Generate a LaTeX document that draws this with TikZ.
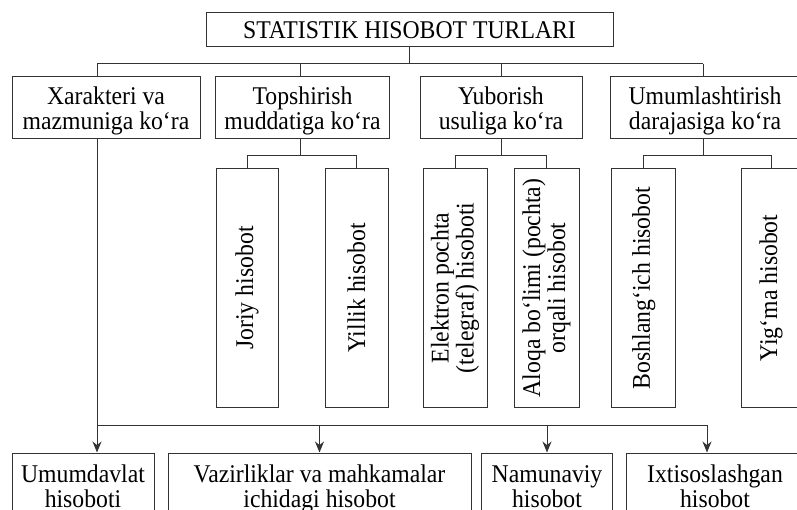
\documentclass[tikz,border=0pt]{standalone}
\usepackage{fontspec}
\setmainfont{Liberation Serif}[FakeStretch=0.93]
\usetikzlibrary{arrows.meta}
\begin{document}
\begin{tikzpicture}[x=1pt,y=-1pt,
  font=\fontsize{25.5}{25}\selectfont,
  box/.style={draw=black!80, line width=1pt, inner sep=0pt, align=center, text depth=0pt},
  vbox/.style={draw=black!80, line width=1pt, inner sep=0pt, align=center, rotate=90, minimum width=238pt},
  ln/.style={draw=black!80, line width=1pt},
  arr/.style={draw=black!80, line width=1pt, -{Stealth[length=11pt,width=9pt]}}]
\useasboundingbox (0,0) rectangle (797,510);
\clip (0,0) rectangle (797,510);

% top
\node[box, minimum width=407pt, minimum height=34pt] (top) at (409.5,30) {STATISTIK HISOBOT TURLARI};

% level 2
\node[box, minimum width=188pt, minimum height=62pt] (k1) at (106,108) {Xarakteri va\\mazmuniga ko‘ra};
\node[box, minimum width=174pt, minimum height=62pt] (k2) at (302.5,108) {Topshirish\\muddatiga ko‘ra};
\node[box, minimum width=162pt, minimum height=62pt] (k3) at (501,108) {Yuborish\\usuliga ko‘ra};
\node[box, minimum width=190pt, minimum height=62pt] (k4) at (705,108) {Umumlashtirish\\darajasiga ko‘ra};

% level 3 (vertical)
\node[vbox, minimum height=62pt] (j1) at (247,288) {Joriy hisobot};
\node[vbox, minimum height=63pt] (j2) at (356.5,288) {Yillik hisobot};
\node[vbox, minimum height=64pt] (e1) at (455,288) {Elektron pochta\\(telegraf) hisoboti};
\node[vbox, minimum height=65pt] (e2) at (546.5,288) {Aloqa bo‘limi (pochta)\\orqali hisobot};
\node[vbox, minimum height=64pt] (u1) at (643.7,288) {Boshlang‘ich hisobot};
\node[vbox, minimum height=60pt] (u2) at (771,288) {Yig‘ma hisobot};

% bottom
\node[box, minimum width=142pt, minimum height=67pt] (b1) at (83,486.5) {Umumdavlat\\hisoboti};
\node[box, minimum width=303pt, minimum height=67pt] (b2) at (319.5,486.5) {Vazirliklar va mahkamalar\\ichidagi hisobot};
\node[box, minimum width=131pt, minimum height=67pt] (b3) at (547,486.5) {Namunaviy\\hisobot};
\node[box, minimum width=178pt, minimum height=67pt] (b4) at (715,486.5) {Ixtisoslashgan\\hisobot};

% helper coordinates
\coordinate (busA) at (0,64);
\coordinate (busB) at (0,156);
\coordinate (busC) at (0,425);
\coordinate (c1) at (97,0);
\coordinate (c2) at (300,0);
\coordinate (c4) at (703,0);
\coordinate (c5) at (707,0);

% top connectors
\draw[ln] (top.south) -- (top.south |- busA);
\draw[ln] (c1 |- busA) -- (c4 |- busA);
\draw[ln] (c1 |- busA) -- (c1 |- k1.north);
\draw[ln] (c2 |- busA) -- (c2 |- k2.north);
\draw[ln] (k3.north |- busA) -- (k3.north);
\draw[ln] (c4 |- busA) -- (c4 |- k4.north);

% level 3 connectors
\draw[ln] (c2 |- k2.south) -- (c2 |- busB);
\draw[ln] (j1.east) -- (j1.east |- busB) -- (j2.east |- busB) -- (j2.east);
\draw[ln] (k3.south) -- (k3.south |- busB);
\draw[ln] (e1.east) -- (e1.east |- busB) -- (e2.east |- busB) -- (e2.east);
\draw[ln] (c4 |- k4.south) -- (c4 |- busB);
\draw[ln] (u1.east) -- (u1.east |- busB) -- (u2.east |- busB) -- (u2.east);

% bottom connectors
\draw[ln] (c1 |- k1.south) -- (c1 |- busC) -- (c5 |- busC);
\draw[arr] (c1 |- busC) -- (c1 |- b1.north);
\draw[arr] (b2.north |- busC) -- (b2.north);
\draw[arr] (b3.north |- busC) -- (b3.north);
\draw[arr] (c5 |- busC) -- (c5 |- b4.north);
\end{tikzpicture}
\end{document}
